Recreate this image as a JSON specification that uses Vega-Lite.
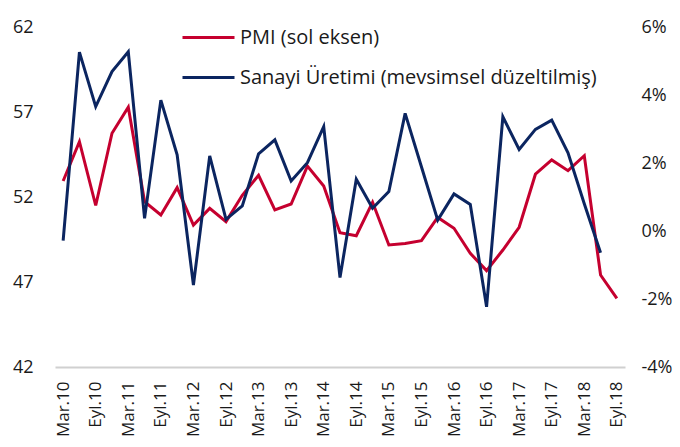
{
  "$schema": "https://vega.github.io/schema/vega-lite/v6.json",
  "autosize": "none",
  "width": 570,
  "height": 340,
  "padding": {"left": 55, "top": 27, "right": 55, "bottom": 80},
  "background": "white",
  "config": {
    "view": {"stroke": null},
    "font": "Open Sans",
    "axis": {"labelFont": "Open Sans", "labelColor": "#1a1a1a", "grid": false, "ticks": false, "title": null},
    "legend": {"labelFont": "Open Sans"}
  },
  "data": {"values": [
    {"donem": "Mar.10", "pmi": 52.94, "sanayi": -0.28},
    {"donem": "Haz.10", "pmi": 55.25, "sanayi": 5.26},
    {"donem": "Eyl.10", "pmi": 51.5, "sanayi": 3.66},
    {"donem": "Ara.10", "pmi": 55.75, "sanayi": 4.69},
    {"donem": "Mar.11", "pmi": 57.28, "sanayi": 5.27},
    {"donem": "Haz.11", "pmi": 51.73, "sanayi": 0.37},
    {"donem": "Eyl.11", "pmi": 50.94, "sanayi": 3.85},
    {"donem": "Ara.11", "pmi": 52.55, "sanayi": 2.24},
    {"donem": "Mar.12", "pmi": 50.35, "sanayi": -1.59},
    {"donem": "Haz.12", "pmi": 51.33, "sanayi": 2.21},
    {"donem": "Eyl.12", "pmi": 50.55, "sanayi": 0.34},
    {"donem": "Ara.12", "pmi": 52.1, "sanayi": 0.74},
    {"donem": "Mar.13", "pmi": 53.28, "sanayi": 2.27},
    {"donem": "Haz.13", "pmi": 51.24, "sanayi": 2.68},
    {"donem": "Eyl.13", "pmi": 51.59, "sanayi": 1.47},
    {"donem": "Ara.13", "pmi": 53.82, "sanayi": 2.01},
    {"donem": "Mar.14", "pmi": 52.65, "sanayi": 3.07},
    {"donem": "Haz.14", "pmi": 49.9, "sanayi": -1.37},
    {"donem": "Eyl.14", "pmi": 49.72, "sanayi": 1.52},
    {"donem": "Ara.14", "pmi": 51.69, "sanayi": 0.67},
    {"donem": "Mar.15", "pmi": 49.18, "sanayi": 1.16},
    {"donem": "Haz.15", "pmi": 49.26, "sanayi": 3.46},
    {"donem": "Eyl.15", "pmi": 49.43, "sanayi": 1.89},
    {"donem": "Ara.15", "pmi": 50.8, "sanayi": 0.32},
    {"donem": "Mar.16", "pmi": 50.16, "sanayi": 1.09},
    {"donem": "Haz.16", "pmi": 48.69, "sanayi": 0.78},
    {"donem": "Eyl.16", "pmi": 47.67, "sanayi": -2.23},
    {"donem": "Ara.16", "pmi": 48.88, "sanayi": 3.36},
    {"donem": "Mar.17", "pmi": 50.22, "sanayi": 2.4},
    {"donem": "Haz.17", "pmi": 53.34, "sanayi": 2.99},
    {"donem": "Eyl.17", "pmi": 54.18, "sanayi": 3.26},
    {"donem": "Ara.17", "pmi": 53.55, "sanayi": 2.3},
    {"donem": "Mar.18", "pmi": 54.43, "sanayi": 0.8},
    {"donem": "Haz.18", "pmi": 47.41, "sanayi": -0.64},
    {"donem": "Eyl.18", "pmi": 46.04, "sanayi": null}
  ]},
  "encoding": {
    "x": {
      "field": "donem", "type": "ordinal", "sort": null,
      "scale": {"type": "point", "padding": 0.5},
      "axis": {
        "values": ["Mar.10","Eyl.10","Mar.11","Eyl.11","Mar.12","Eyl.12","Mar.13","Eyl.13","Mar.14","Eyl.14","Mar.15","Eyl.15","Mar.16","Eyl.16","Mar.17","Eyl.17","Mar.18","Eyl.18"],
        "labelAngle": -90, "labelFontSize": 17, "labelPadding": 14,
        "domain": true, "domainColor": "#d0d0d0", "domainWidth": 2
      }
    }
  },
  "layer": [
    {
      "mark": {"type": "line", "strokeWidth": 3},
      "encoding": {
        "y": {
          "field": "pmi", "type": "quantitative",
          "scale": {"domain": [42, 62], "nice": false, "zero": false},
          "axis": {"orient": "left", "values": [42, 47, 52, 57, 62], "labelFontSize": 18, "labelPadding": 22, "domain": false}
        },
        "color": {
          "datum": "PMI (sol eksen)", "type": "nominal",
          "scale": {"domain": ["PMI (sol eksen)", "Sanayi Üretimi (mevsimsel düzeltilmiş)"], "range": ["#C5002F", "#0B2560"]},
          "legend": {
            "orient": "none", "legendX": 126, "legendY": -17, "title": null, "padding": 0,
            "symbolType": "stroke", "symbolSize": 2704, "symbolStrokeWidth": 3,
            "labelFontSize": 20, "labelColor": "#1a1a1a", "labelOffset": 4, "rowPadding": 2, "labelLimit": 500
          }
        }
      }
    },
    {
      "mark": {"type": "line", "strokeWidth": 3},
      "encoding": {
        "y": {
          "field": "sanayi", "type": "quantitative",
          "scale": {"domain": [-4, 6], "nice": false, "zero": false},
          "axis": {"orient": "right", "values": [-4, -2, 0, 2, 4, 6], "labelExpr": "datum.value + '%'", "labelFontSize": 18, "labelPadding": 16, "domain": false}
        },
        "color": {"datum": "Sanayi Üretimi (mevsimsel düzeltilmiş)", "type": "nominal"}
      }
    }
  ],
  "resolve": {"scale": {"y": "independent"}}
}
